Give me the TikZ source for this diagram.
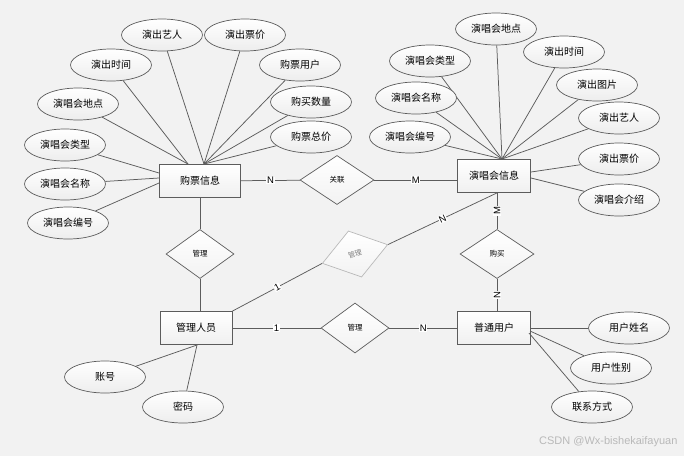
\documentclass[tikz,border=0pt]{standalone}
\usepackage{fontspec}
\setmainfont{Liberation Sans}
\newfontfamily\cjk{Noto Sans CJK SC}
\usetikzlibrary{shapes,shapes.geometric}
\definecolor{bgray}{rgb}{0.949,0.949,0.949}
\definecolor{edgegray}{rgb}{0.36,0.36,0.36}
\tikzstyle{entity}=[draw=edgegray, rectangle, line width=0.8pt, top color=white,
               bottom color=gray!12, minimum width=73pt, minimum height=33pt,
               inner sep=0pt, font=\cjk\fontsize{10}{12}\selectfont]
\tikzstyle{attr}=[draw=edgegray, ellipse, line width=0.7pt, top color=white,
               bottom color=gray!14, minimum width=81pt, minimum height=32pt,
               inner sep=0pt, font=\cjk\fontsize{10}{12}\selectfont]
\tikzstyle{rel}=[draw=edgegray, diamond, line width=0.7pt, top color=white,
               bottom color=gray!10, minimum width=74pt, minimum height=49pt,
               inner sep=0pt, font=\cjk\fontsize{7.5}{9}\selectfont]
\tikzstyle{link}=[draw=edgegray, line width=0.75pt]
\tikzstyle{card}=[fill=white, inner sep=0.6pt, font=\fontsize{9.5}{10}\selectfont]

\begin{document}
\begin{tikzpicture}[x=1pt,y=-1pt]
\fill[bgray] (0,0) rectangle (684,456);
\useasboundingbox (0,0) rectangle (684,456);

% entities
\node[entity, minimum width=81pt] at (200,181) (gp) {购票信息};
\node[entity] at (494,176) (yc) {演唱会信息};
\node[entity, minimum width=72pt] at (196,328) (admin) {管理人员};
\node[entity] at (494,328) (user) {普通用户};

% relations
\node[rel] at (337,180) (gl) {关联};
\node[rel, minimum width=68pt] at (200,254) (gl1) {管理};
\node[rel, minimum width=68pt, minimum height=50pt] at (355,328) (gl2) {管理};
\node[rel] at (497,254) (buy) {购买};
\node[rel, minimum width=68pt, minimum height=48pt, rotate=16, draw=gray!55,
      text=gray, font=\cjk\fontsize{7}{8}\selectfont] at (355,254) (gl3) {管理};

% meeting points of the attribute lines
\coordinate (gptop) at (204,164);
\coordinate (gptopl) at (188,164);
\coordinate (yctop) at (502,159);
\coordinate (adbot) at (197,345);

\foreach \nm/\x/\y/\txt/\to in {
    ga1/162/35/演出艺人/gptop, ga2/245/35/演出票价/gptop,
    ga3/111/65/演出时间/gptopl, ga4/300/65/购票用户/gptop,
    ga5/78/104/演唱会地点/gptopl, ga6/311/102/购买数量/gptop,
    ga7/311/137/购票总价/gptop}
{
  \node[attr] at (\x,\y) (\nm) {\txt};
  \draw[link] (\nm) -- (\to);
}
\node[attr] at (65,145) (ga8) {演唱会类型};
\node[attr] at (65,184) (ga9) {演唱会名称};
\node[attr] at (68,223) (ga10) {演唱会编号};
\draw[link] (ga8) -- (159,173);
\draw[link] (ga9) -- (159,178);
\draw[link] (ga10) -- (159,183);

\foreach \nm/\x/\y/\txt in {
    ya1/496/29/演唱会地点, ya2/430/61/演唱会类型, ya3/564/52/演出时间,
    ya4/416/98/演唱会名称, ya5/597/85/演出图片, ya6/410/137/演唱会编号,
    ya7/619/118/演出艺人}
{
  \node[attr] at (\x,\y) (\nm) {\txt};
  \draw[link] (\nm) -- (yctop);
}
\node[attr] at (619,159) (ya8) {演出票价};
\node[attr] at (619,200) (ya9) {演唱会介绍};
\draw[link] (ya8) -- (531,172);
\draw[link] (ya9) -- (531,178);

\node[attr] at (105,377) (aa1) {账号};
\node[attr] at (183,407) (aa2) {密码};
\draw[link] (aa1) -- (adbot);
\draw[link] (aa2) -- (adbot);

\node[attr] at (629,328) (ua1) {用户姓名};
\node[attr] at (611,368) (ua2) {用户性别};
\node[attr] at (592,407) (ua3) {联系方式};
\draw[link] (ua1) -- (user.east);
\draw[link] (ua2) -- (530,331);
\draw[link] (ua3) -- (529,333);

% relation lines
\draw[link] (gp) -- node[card]{N} (gl);
\draw[link] (gl.east) -- node[card]{M} (gl.east -| yc.west);
\draw[link] (gp) -- (gl1);
\draw[link] (gl1.south) -- (gl1.south |- admin.north);
\draw[link] (admin) -- node[card]{1} (gl2);
\draw[link] (gl2) -- node[card]{N} (user);
\draw[link] (yc.south -| buy.north) -- node[card, rotate=90]{M} (buy.north);
\draw[link] (buy.south) -- node[card, rotate=90]{N} (buy.south |- user.north);
\draw[link] (admin.north east) -- node[card, sloped]{1} (gl3.west);
\draw[link] (gl3.east) -- node[card, sloped]{N} (yc.south -| buy.north);

\node[anchor=east, text=gray!55, font=\fontsize{11}{12}\selectfont] at (681,442)
  (mark) {CSDN @Wx-bishekaifayuan};
\end{tikzpicture}
\end{document}
